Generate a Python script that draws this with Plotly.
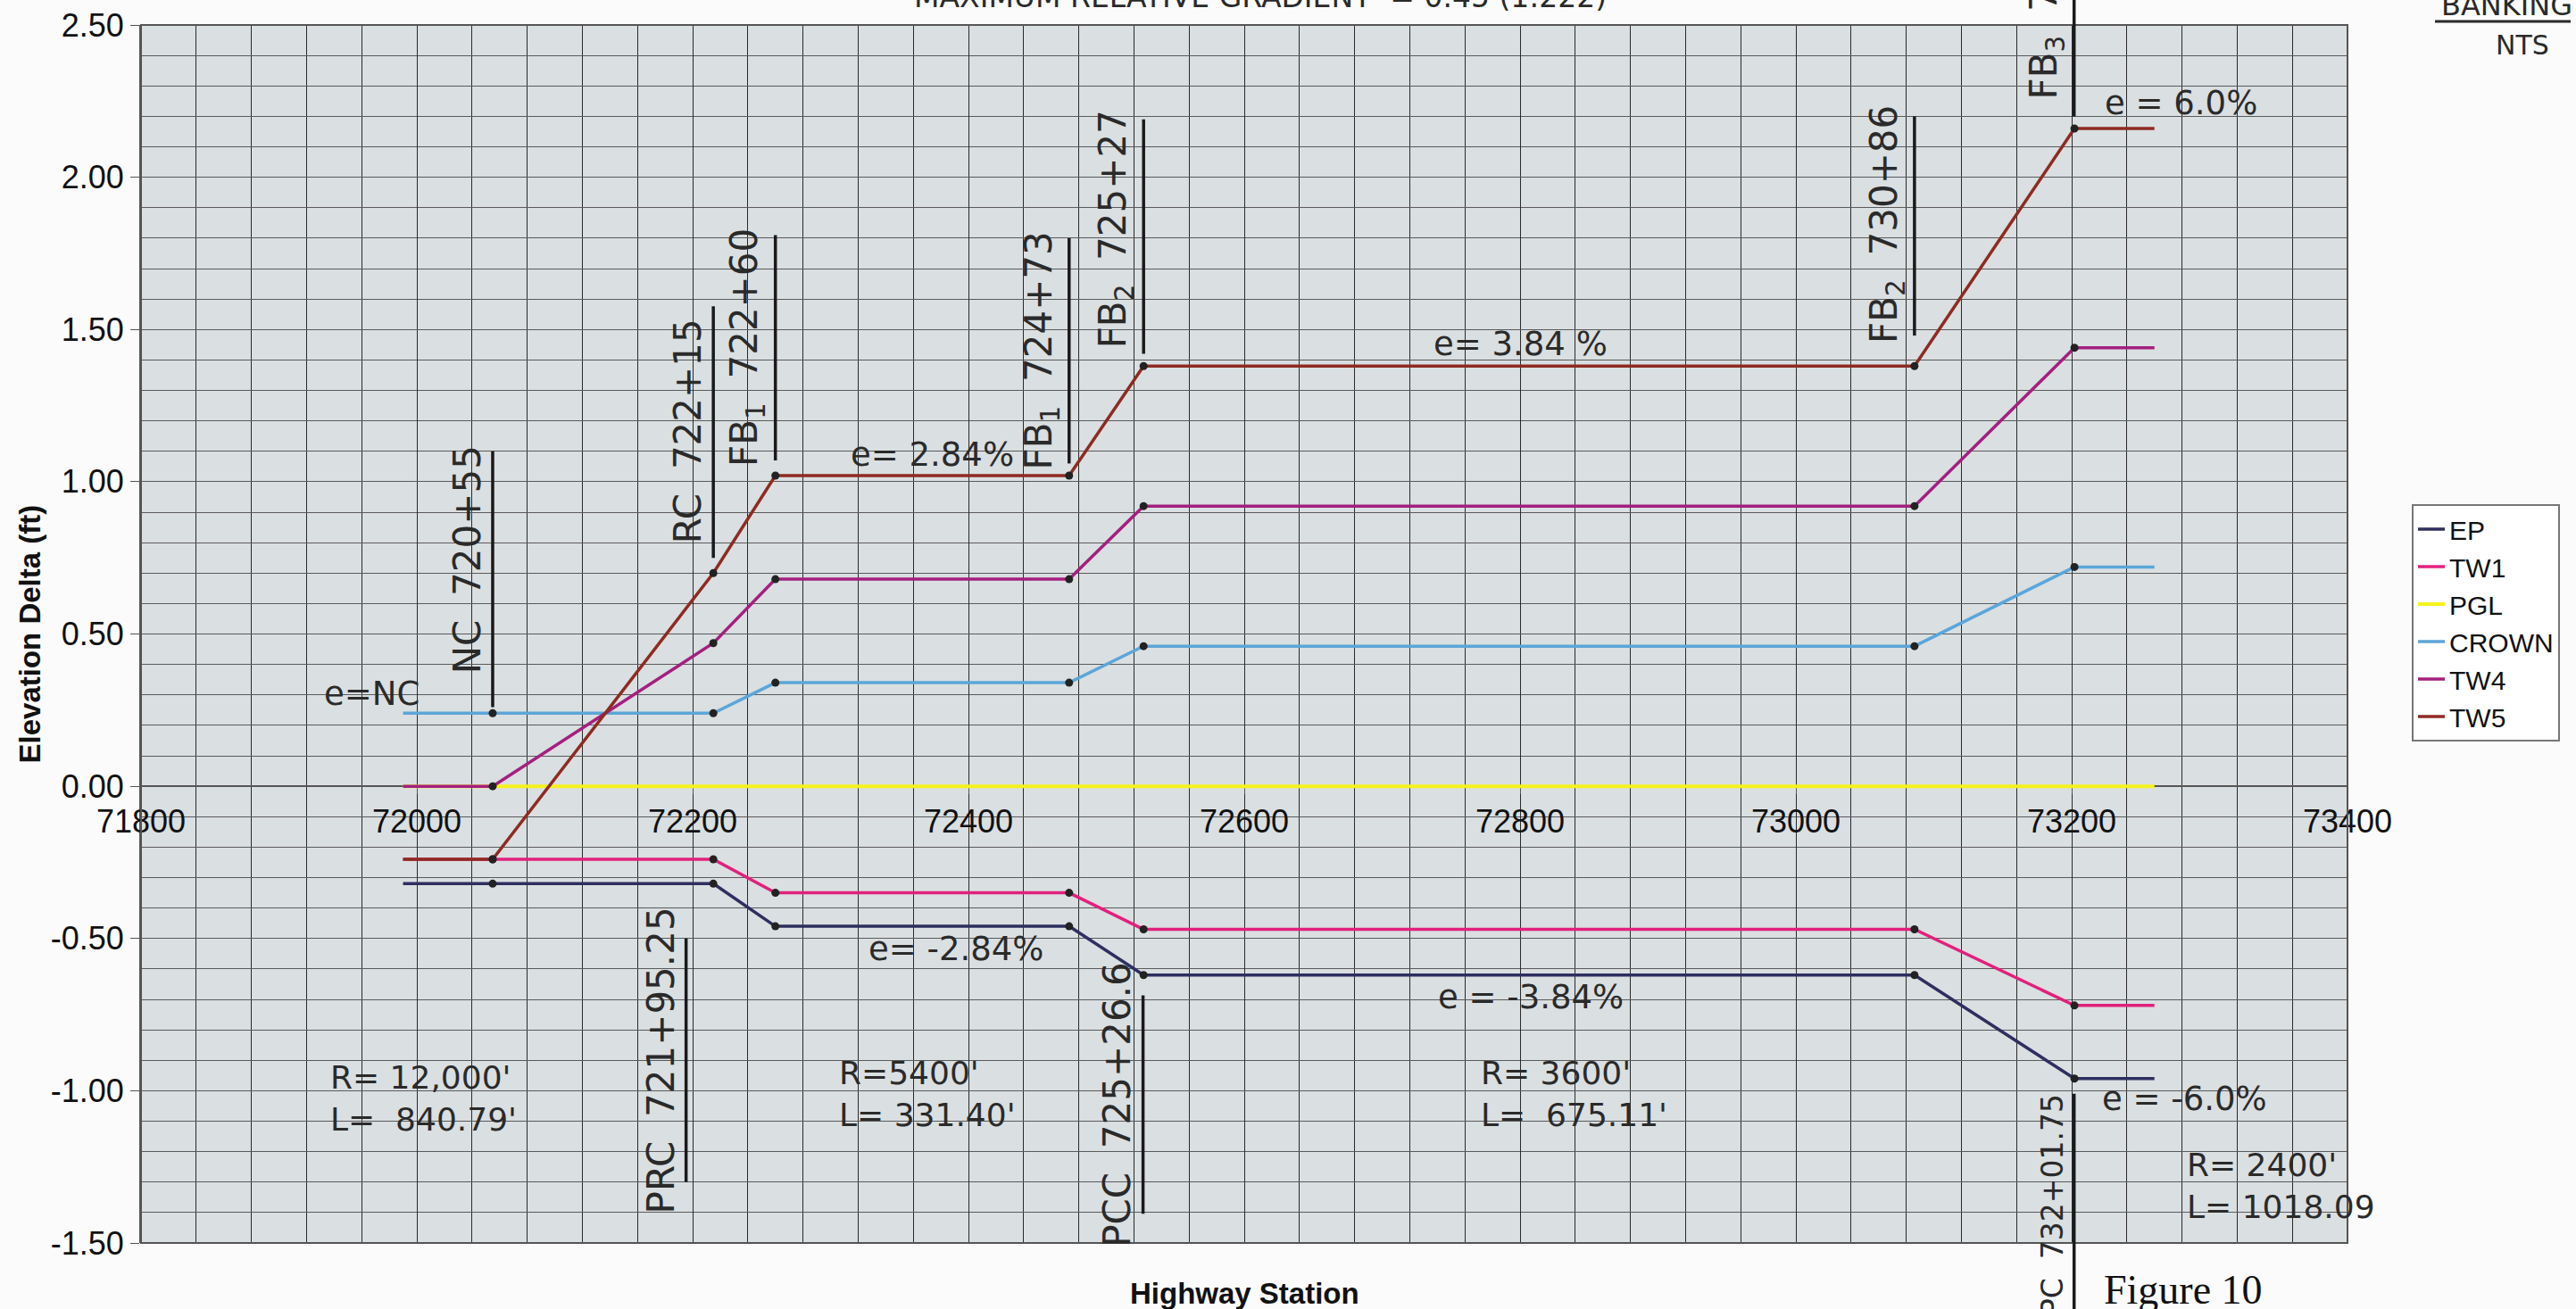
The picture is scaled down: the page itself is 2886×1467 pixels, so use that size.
import plotly.graph_objects as go

# ---------------- data ----------------
stations = [71990, 72055, 72215, 72260, 72473, 72527, 73086, 73202, 73260]
ep    = [-0.32, -0.32, -0.32, -0.46, -0.46, -0.62, -0.62, -0.96, -0.96]
tw1   = [-0.24, -0.24, -0.24, -0.35, -0.35, -0.47, -0.47, -0.72, -0.72]
pgl   = [0.00, 0.00, 0.00, 0.00, 0.00, 0.00, 0.00, 0.00, 0.00]
crown = [0.24, 0.24, 0.24, 0.34, 0.34, 0.46, 0.46, 0.72, 0.72]
tw4   = [0.00, 0.00, 0.47, 0.68, 0.68, 0.92, 0.92, 1.44, 1.44]
tw5   = [-0.24, -0.24, 0.70, 1.02, 1.02, 1.38, 1.38, 2.16, 2.16]

series_names = ["EP", "TW1", "PGL", "CROWN", "TW4", "TW5"]
series_vals = [ep, tw1, pgl, crown, tw4, tw5]
series_colors = ["#2e2f60", "#e2207c", "#f6f21c", "#5ba6d8", "#a3207f", "#8e2b22"]

x_tickvals = [71800, 72000, 72200, 72400, 72600, 72800, 73000, 73200, 73400]
x_ticktext = ["71800", "72000", "72200", "72400", "72600", "72800", "73000", "73200", "73400"]
y_tickvals = [-1.5, -1.0, -0.5, 0.0, 0.5, 1.0, 1.5, 2.0, 2.5]
y_ticktext = ["-1.50", "-1.00", "-0.50", "0.00", "0.50", "1.00", "1.50", "2.00", "2.50"]

# station marks (vertical handwritten lines): station, label, y_start, y_end, label centre y
upper_marks = [
    (72055, "NC  720+55", 0.26, 1.10, 0.745),
    (72215, "RC  722+15", 0.75, 1.576, 1.165),
    (72260, "FB<sub>1</sub>  722+60", 1.07, 1.81, 1.44),
    (72473, "FB<sub>1</sub>  724+73", 1.06, 1.80, 1.43),
    (72527, "FB<sub>2</sub>  725+27", 1.42, 2.19, 1.83),
    (73086, "FB<sub>2</sub>  730+86", 1.48, 2.20, 1.845),
]
lower_marks = [
    (72195.25, "PRC  721+95.25", -0.50, -1.30, -0.90),
    (72526.6, "PCC  725+26.6", -0.687, -1.404, -1.045),
]

e_labels = [
    (71967, 0.303, "e=NC"),
    (72374, 1.09, "e= 2.84%"),
    (72800, 1.452, "e= 3.84 %"),
    (73279, 2.244, "e = 6.0%"),
    (72391, -0.533, "e= -2.84%"),
    (72808, -0.694, "e = -3.84%"),
    (73282, -1.028, "e = -6.0%"),
]
curve_labels = [
    (71936, -1.024, "R= 12,000'<br>L=  840.79'"),
    (72305, -1.01, "R=5400'<br>L= 331.40'"),
    (72770, -1.012, "R= 3600'<br>L=  675.11'"),
    (73282, -1.313, "R= 2400'<br>L= 1018.09"),
]

# ---------------- layout geometry ----------------
W, H = 2886, 1467
L, R, T, B = 158, 256, 28, 74
PW, PH = W - L - R, H - T - B


def pxx(px):
    return (px - L) / PW


def pxy(py):
    return (H - B - py) / PH


HAND = "DejaVu Sans"
INK = "#2a2a2a"
AXF = "Liberation Sans Narrow, Liberation Sans, Arial"

fig = go.Figure()
for name, vals, col in zip(series_names, series_vals, series_colors):
    fig.add_trace(go.Scatter(x=stations, y=vals, name=name, mode="lines",
                             line=dict(color=col, width=4 if name == "PGL" else 3.5)))
for name, vals in zip(series_names, series_vals):
    if name == "PGL":
        continue
    fig.add_trace(go.Scatter(x=stations[1:-1], y=vals[1:-1], mode="markers",
                             marker=dict(color="#222222", size=9), showlegend=False,
                             hoverinfo="skip"))

shapes = []
annotations = []

# plot border
shapes.append(dict(type="rect", xref="paper", yref="paper", x0=0, x1=1, y0=0, y1=1,
                   line=dict(color="#555555", width=2), layer="above"))

for st, lab, y0, y1, yc in upper_marks + lower_marks:
    shapes.append(dict(type="line", xref="x", yref="y", x0=st, x1=st, y0=y0, y1=y1,
                       line=dict(color="#1a1a1a", width=3.5), layer="above"))
    annotations.append(dict(x=st, y=yc, xref="x", yref="y", text=lab, showarrow=False,
                            textangle=-90, xanchor="right", yanchor="middle", xshift=-2,
                            font=dict(family=HAND, size=42, color=INK)))

# FB3 mark at 732+01.75 running off the top, PC mark running off the bottom
shapes.append(dict(type="line", xref="x", yref="paper", x0=73201.75, x1=73201.75,
                   y0=(2.20 + 1.5) / 4.0, y1=1.05, line=dict(color="#1a1a1a", width=3.5)))
annotations.append(dict(x=73201.75, y=2.25, xref="x", yref="y", text="FB<sub>3</sub>  732+01.75",
                        showarrow=False, textangle=-90, xanchor="right", yanchor="bottom", xshift=-2,
                        font=dict(family=HAND, size=42, color=INK)))
shapes.append(dict(type="line", xref="x", yref="paper", x0=73201.75, x1=73201.75,
                   y0=(-1.01 + 1.5) / 4.0, y1=-0.06, line=dict(color="#1a1a1a", width=3.5)))
annotations.append(dict(x=73201.75, y=-1.006, xref="x", yref="y", text="PC  732+01.75",
                        showarrow=False, textangle=-90, xanchor="right", yanchor="top", xshift=-2,
                        font=dict(family=HAND, size=33, color=INK)))

for x, y, t in e_labels:
    annotations.append(dict(x=x, y=y, xref="x", yref="y", text=t, showarrow=False,
                            xanchor="center", yanchor="middle",
                            font=dict(family=HAND, size=37, color=INK)))
for x, y, t in curve_labels:
    annotations.append(dict(x=x, y=y, xref="x", yref="y", text=t, showarrow=False,
                            xanchor="left", yanchor="middle", align="left",
                            font=dict(family=HAND, size=36, color=INK)))

# titles / page texts
annotations.append(dict(x=pxx(1412), y=pxy(18), xref="paper", yref="paper",
                        xanchor="center", yanchor="bottom",
                        text="MAXIMUM RELATIVE GRADIENT  = 0.45 (1:222)", showarrow=False,
                        font=dict(family=HAND, size=33, color=INK)))
annotations.append(dict(x=pxx(2808), y=pxy(6), xref="paper", yref="paper",
                        xanchor="center", yanchor="middle",
                        text="BANKING", showarrow=False,
                        font=dict(family=HAND, size=32, color=INK)))
shapes.append(dict(type="line", xref="paper", yref="paper", x0=pxx(2728), x1=pxx(2880),
                   y0=pxy(24), y1=pxy(24), line=dict(color=INK, width=3)))
annotations.append(dict(x=pxx(2826), y=pxy(50), xref="paper", yref="paper",
                        xanchor="center", yanchor="middle",
                        text="NTS", showarrow=False,
                        font=dict(family=HAND, size=30, color=INK)))
annotations.append(dict(x=pxx(2446), y=pxy(1445), xref="paper", yref="paper",
                        xanchor="center", yanchor="middle",
                        text="Figure 10", showarrow=False,
                        font=dict(family="Liberation Serif", size=46, color="#111111")))
annotations.append(dict(x=pxx(33), y=0.5, xref="paper", yref="paper", textangle=-90,
                        xanchor="center", yanchor="middle",
                        text="<b>Elevation Delta (ft)</b>", showarrow=False,
                        font=dict(family=AXF, size=33, color="#111111")))
annotations.append(dict(x=0.5, y=pxy(1449), xref="paper", yref="paper",
                        xanchor="center", yanchor="middle",
                        text="<b>Highway Station</b>", showarrow=False,
                        font=dict(family=AXF, size=33, color="#111111")))

grid_v = "#2a2a2a"
grid_h = "#5a5a5a"

fig.update_layout(
    width=W, height=H,
    margin=dict(l=L, r=R, t=T, b=B, autoexpand=False),
    paper_bgcolor="#fbfbfb",
    plot_bgcolor="#dadfe1",
    font=dict(family="Liberation Sans", size=33, color="#111111"),
    showlegend=True,
    legend=dict(x=pxx(2702), y=pxy(565), xanchor="left", yanchor="top",
                bgcolor="#ffffff", bordercolor="#777777", borderwidth=2,
                font=dict(family="Liberation Sans", size=30, color="#111111"),
                traceorder="normal"),
    xaxis=dict(range=[71800, 73400], tickmode="array", tickvals=x_tickvals, ticktext=x_ticktext,
               showgrid=True, gridcolor=grid_v, gridwidth=1.4,
               minor=dict(tick0=71800, dtick=40, showgrid=True, gridcolor=grid_v, gridwidth=1.4),
               anchor="free", position=0.375, showline=True, linecolor="#555555", linewidth=2,
               ticks="outside", ticklen=8, tickcolor="#555555", zeroline=False,
               layer="below traces",
               tickfont=dict(family=AXF, size=36, color="#111111")),
    yaxis=dict(range=[-1.5, 2.5], tickmode="array", tickvals=y_tickvals, ticktext=y_ticktext,
               showgrid=True, gridcolor=grid_h, gridwidth=1.4,
               minor=dict(tick0=-1.5, dtick=0.1, showgrid=True, gridcolor=grid_h, gridwidth=1.4),
               showline=True, linecolor="#555555", linewidth=2, ticks="outside", ticklen=10,
               tickcolor="#555555", zeroline=True, zerolinecolor="#555555", zerolinewidth=2,
               layer="below traces",
               tickfont=dict(family=AXF, size=36, color="#111111")),
    shapes=shapes,
    annotations=annotations,
)

fig.write_html("out.html", config={"displayModeBar": False},
               post_script="document.body.style.margin='0px';")
